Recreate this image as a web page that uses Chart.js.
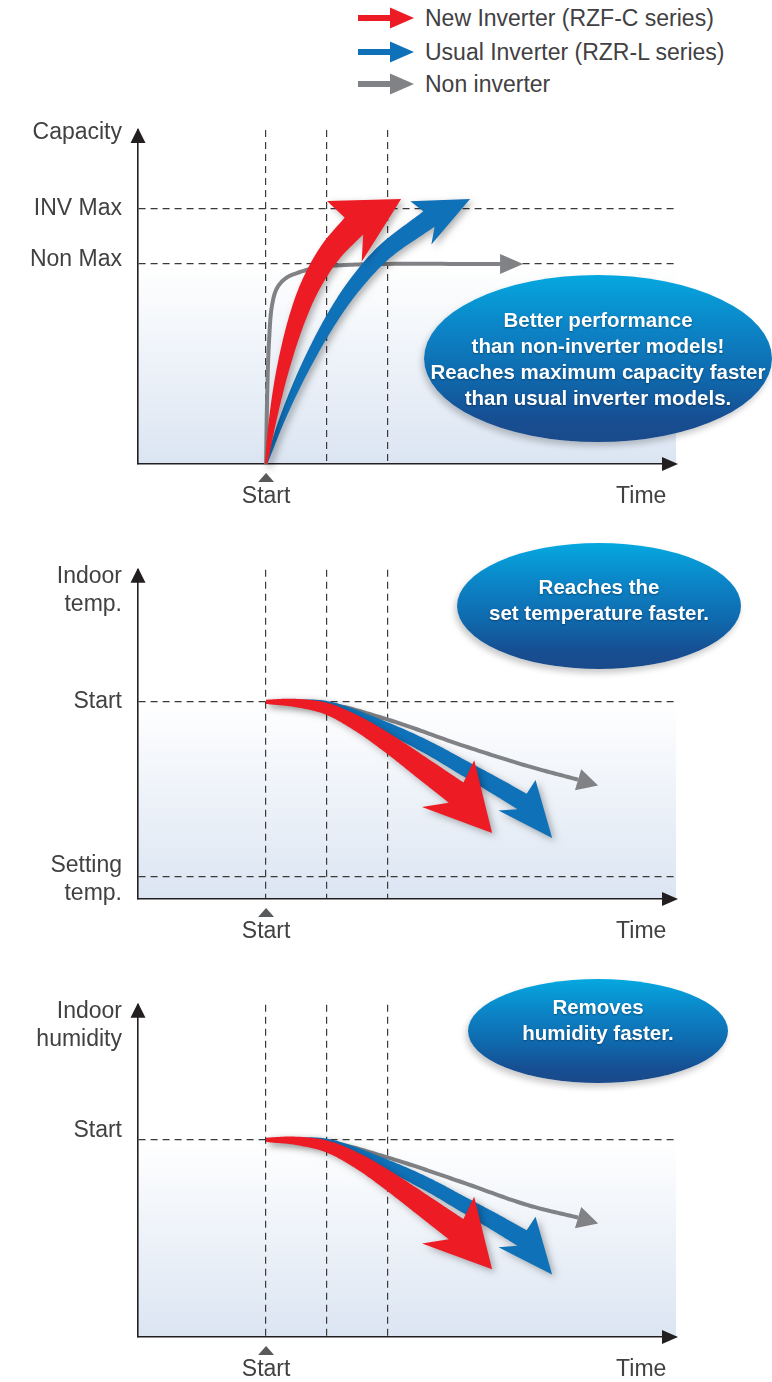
<!DOCTYPE html>
<html>
<head>
<meta charset="utf-8">
<script src="https://cdn.jsdelivr.net/npm/chart.js@4.4.1/dist/chart.umd.min.js"></script>
<style>
  body { margin: 0; background: #fff; }
  #page { position: relative; width: 772px; height: 1382px; overflow: hidden; font-family: "Liberation Sans", Arial, Helvetica, sans-serif; }
  canvas { position: absolute; left: 0; }
  .legend-row { position: absolute; left: 358px; height: 30px; display: flex; align-items: center; color: #414042; font-size: 23px; }
  .legend-row svg { width: 56px; height: 24px; margin-right: 11px; }
  .bubble {
    position: absolute; border-radius: 50%; color: #fff; font-weight: bold; font-size: 20.5px; line-height: 26px;
    text-align: center; display: flex; align-items: center; justify-content: center; box-sizing: border-box;
    background: linear-gradient(to bottom, #05a8e0 0%, #0b86c8 30%, #0f6aae 60%, #164f93 85%, #1a4a8a 100%);
    box-shadow: -2px 4px 6px rgba(0,0,0,0.22);
    text-shadow: 0 1px 2px rgba(0,0,0,0.35);
    white-space: nowrap;
  }
</style>
</head>
<body>
<div id="page">
  <div class="legend-row" style="top:3px">
    <svg viewBox="0 0 56 24"><rect x="0" y="9" width="34" height="6" fill="#ed1c24"/><polygon points="32,1.5 56,12 32,22.5" fill="#ed1c24"/></svg>New Inverter (RZF-C series)
  </div>
  <div class="legend-row" style="top:37px">
    <svg viewBox="0 0 56 24"><rect x="0" y="9" width="34" height="6" fill="#0f71b8"/><polygon points="32,1.5 56,12 32,22.5" fill="#0f71b8"/></svg>Usual Inverter (RZR-L series)
  </div>
  <div class="legend-row" style="top:69px">
    <svg viewBox="0 0 56 24"><rect x="0" y="9" width="34" height="6" fill="#808285"/><polygon points="32,1.5 56,12 32,22.5" fill="#808285"/></svg>Non inverter
  </div>

  <canvas id="capChart" width="772" height="420" style="top:100px"></canvas>
  <canvas id="tempChart" width="772" height="420" style="top:540px"></canvas>
  <canvas id="humChart" width="772" height="407" style="top:975px"></canvas>

  <div class="bubble" style="left:424px; top:275px; width:348px; height:167px;">Better performance<br>than non-inverter models!<br>Reaches maximum capacity faster<br>than usual inverter models.</div>
  <div class="bubble" style="left:457px; top:543px; width:284px; height:126px; padding-bottom:12px;">Reaches the<br>set temperature faster.</div>
  <div class="bubble" style="left:468px; top:979px; width:260px; height:104px; padding-bottom:22px;">Removes<br>humidity faster.</div>
</div>

<script>
// time axis (shared): 0 = start, 1 and 2 are the guide lines
const timeTicks = [0, 1, 2, 6.15];
const timeLabels = ['Start', '', '', 'Time'];
const timeGrid = [true, true, true, false];

// capacity panel (1 = non-inverter max)
const capYTicks = [1.655, 1.275, 1.02, 1.0];
const capYLabels = ['Capacity', 'INV Max', 'Non Max', ''];
const capYGrid = [false, true, false, true];
const capRedX = [0, 0.108, 0.272, 0.502, 0.731, 1.056, 1.439, 2.213];
const capRedY = [0, 0.22, 0.47, 0.72, 0.895, 1.06, 1.19, 1.325];
const capBlueX = [0, 0.259, 0.620, 1.062, 1.452, 1.939, 2.670, 3.344];
const capBlueY = [0, 0.22, 0.47, 0.72, 0.895, 1.06, 1.225, 1.325];
const capGrayX = [0, 0.016, 0.049, 0.098, 0.180, 0.328, 0.557, 0.885, 1.295, 1.869, 3.836, 4.213];
const capGrayY = [0, 0.32, 0.62, 0.795, 0.88, 0.93, 0.96, 0.985, 0.995, 1.0, 1.0, 1.0];

// indoor temperature panel (0 = setting temp, 1 = start temp)
const tempYTicks = [1.636, 1.0, -0.02, 0];
const tempYLabels = [['Indoor', 'temp.'], 'Start', ['Setting', 'temp.'], ''];
const tempYGrid = [false, true, false, true];
const tempRedX = [0, 0.475, 1.0, 1.525, 2.0, 2.672, 3.115, 3.705];
const tempRedY = [1.0, 0.994, 0.960, 0.870, 0.763, 0.593, 0.480, 0.249];
const tempBlueX = [0, 0.475, 1.0, 2.0, 2.672, 3.213, 3.754, 4.197, 4.689];
const tempBlueY = [1.0, 0.997, 0.983, 0.848, 0.734, 0.627, 0.520, 0.429, 0.220];
const tempGrayX = [0, 1.0, 2.0, 3.213, 4.279, 5.115, 5.443];
const tempGrayY = [1.0, 0.989, 0.898, 0.751, 0.633, 0.554, 0.520];

// indoor humidity panel
const humYTicks = [1.653, 1.05, 1.0];
const humYLabels = [['Indoor', 'humidity'], 'Start', ''];
const humYGrid = [false, false, true];
const humRedX = [0, 0.475, 1.0, 1.525, 2.0, 2.672, 3.115, 3.705];
const humRedY = [1.0, 0.995, 0.962, 0.875, 0.768, 0.600, 0.488, 0.258];
const humBlueX = [0, 0.475, 1.0, 2.0, 2.672, 3.213, 3.754, 4.197, 4.689];
const humBlueY = [1.0, 0.997, 0.985, 0.852, 0.740, 0.634, 0.528, 0.437, 0.228];
const humGrayX = [0, 1.0, 2.0, 3.213, 4.279, 5.115, 5.443];
const humGrayY = [1.0, 0.988, 0.898, 0.757, 0.627, 0.554, 0.520];

const FONT = '"Liberation Sans", Arial, Helvetica, sans-serif';
const TEXT = '#414042';
const AXIS = '#231f20';
const DASH = '#3a3a3a';

// centripetal catmull-rom through the pixel points
function smooth(pts, steps) {
    const n = pts.length;
    if (n < 2) return pts.slice();
    const ext = [
        { x: 2 * pts[0].x - pts[1].x, y: 2 * pts[0].y - pts[1].y },
        ...pts,
        { x: 2 * pts[n - 1].x - pts[n - 2].x, y: 2 * pts[n - 1].y - pts[n - 2].y }
    ];
    const knot = (a, b) => Math.max(Math.sqrt(Math.hypot(b.x - a.x, b.y - a.y)), 1e-4);
    const lerp = (a, b, ta, tb, t) => ({
        x: (tb - t) / (tb - ta) * a.x + (t - ta) / (tb - ta) * b.x,
        y: (tb - t) / (tb - ta) * a.y + (t - ta) / (tb - ta) * b.y
    });
    const out = [];
    for (let i = 1; i < ext.length - 2; i++) {
        const p0 = ext[i - 1], p1 = ext[i], p2 = ext[i + 1], p3 = ext[i + 2];
        const t0 = 0, t1 = t0 + knot(p0, p1), t2 = t1 + knot(p1, p2), t3 = t2 + knot(p2, p3);
        for (let s = 0; s < steps; s++) {
            const t = t1 + (t2 - t1) * s / steps;
            const a1 = lerp(p0, p1, t0, t1, t), a2 = lerp(p1, p2, t1, t2, t), a3 = lerp(p2, p3, t2, t3, t);
            const b1 = lerp(a1, a2, t0, t2, t), b2 = lerp(a2, a3, t1, t3, t);
            out.push(lerp(b1, b2, t1, t2, t));
        }
    }
    out.push(pts[n - 1]);
    return out;
}

function drawArrow(ctx, pts, st) {
    const tip = pts[pts.length - 1];
    const shaft = smooth(pts.slice(0, -1), 20);
    const base = shaft[shaft.length - 1];
    const dx = tip.x - base.x, dy = tip.y - base.y, d = Math.hypot(dx, dy) || 1;
    const ux = dx / d, uy = dy / d, nx = -uy, ny = ux;
    const bl = { x: base.x + nx * st.head - ux * st.back, y: base.y + ny * st.head - uy * st.back };
    const br = { x: base.x - nx * st.head - ux * st.back, y: base.y - ny * st.head - uy * st.back };

    ctx.save();
    ctx.fillStyle = st.color;
    ctx.strokeStyle = st.color;
    if (st.shadow) {
        ctx.shadowColor = 'rgba(0,0,0,0.3)';
        ctx.shadowBlur = 7;
        ctx.shadowOffsetX = 3;
        ctx.shadowOffsetY = 3;
    }
    if (st.line) {
        ctx.lineWidth = st.line;
        ctx.lineJoin = 'round';
        ctx.beginPath();
        shaft.forEach((p, i) => i ? ctx.lineTo(p.x, p.y) : ctx.moveTo(p.x, p.y));
        ctx.stroke();
        ctx.beginPath();
        ctx.moveTo(bl.x, bl.y);
        ctx.lineTo(tip.x, tip.y);
        ctx.lineTo(br.x, br.y);
        ctx.closePath();
        ctx.fill();
    } else {
        const len = [0];
        for (let i = 1; i < shaft.length; i++) {
            len.push(len[i - 1] + Math.hypot(shaft[i].x - shaft[i - 1].x, shaft[i].y - shaft[i - 1].y));
        }
        const total = len[len.length - 1] || 1;
        const L = [], R = [];
        shaft.forEach((p, i) => {
            const a = shaft[Math.max(i - 1, 0)], b = shaft[Math.min(i + 1, shaft.length - 1)];
            const tx = b.x - a.x, ty = b.y - a.y, tl = Math.hypot(tx, ty) || 1;
            const px = -ty / tl, py = tx / tl;
            const w = (st.w0 + (st.w1 - st.w0) * Math.pow(len[i] / total, 0.8)) / 2;
            L.push({ x: p.x + px * w, y: p.y + py * w });
            R.push({ x: p.x - px * w, y: p.y - py * w });
        });
        ctx.beginPath();
        ctx.moveTo(L[0].x, L[0].y);
        L.forEach(p => ctx.lineTo(p.x, p.y));
        ctx.lineTo(bl.x, bl.y);
        ctx.lineTo(tip.x, tip.y);
        ctx.lineTo(br.x, br.y);
        for (let i = R.length - 1; i >= 0; i--) ctx.lineTo(R[i].x, R[i].y);
        ctx.closePath();
        ctx.fill();
    }
    ctx.restore();
}

const arrowPlugin = {
    id: 'arrows',
    beforeDraw(chart, args, opts) {
        const { ctx, chartArea: a, scales: { y } } = chart;
        const top = y.getPixelForValue(opts.band);
        const g = ctx.createLinearGradient(0, top, 0, a.bottom);
        g.addColorStop(0, '#ffffff');
        g.addColorStop(1, '#dbe5f2');
        ctx.fillStyle = g;
        ctx.fillRect(a.left, top, a.right - a.left, a.bottom - top);
    },
    afterDatasetsDraw(chart) {
        chart.data.datasets.forEach((ds, i) => {
            const pts = chart.getDatasetMeta(i).data.map(p => ({ x: p.x, y: p.y }));
            drawArrow(chart.ctx, pts, ds.arrowStyle);
        });
    },
    afterDraw(chart) {
        const { ctx, chartArea: a, scales: { x } } = chart;
        ctx.save();
        ctx.fillStyle = AXIS;
        // y axis arrow
        ctx.beginPath();
        ctx.moveTo(a.left, a.top - 2);
        ctx.lineTo(a.left + 7.5, a.top + 13);
        ctx.lineTo(a.left - 7.5, a.top + 13);
        ctx.closePath();
        ctx.fill();
        // x axis arrow
        ctx.beginPath();
        ctx.moveTo(a.right + 2, a.bottom);
        ctx.lineTo(a.right - 14, a.bottom - 7);
        ctx.lineTo(a.right - 14, a.bottom + 7);
        ctx.closePath();
        ctx.fill();
        // start marker
        const sx = x.getPixelForValue(0);
        ctx.fillStyle = '#58595b';
        ctx.beginPath();
        ctx.moveTo(sx, a.bottom + 9);
        ctx.lineTo(sx + 8, a.bottom + 18);
        ctx.lineTo(sx - 8, a.bottom + 18);
        ctx.closePath();
        ctx.fill();
        ctx.restore();
    }
};

function toPoints(xs, ys) {
    return xs.map((x, i) => ({ x: x, y: ys[i] }));
}

function makeChart(id, cfg) {
    return new Chart(document.getElementById(id), {
        type: 'scatter',
        data: {
            datasets: cfg.series.map(s => ({
                label: s.label,
                data: toPoints(s.x, s.y),
                pointRadius: 0,
                showLine: false,
                arrowStyle: s.style
            }))
        },
        options: {
            responsive: false,
            animation: false,
            events: [],
            layout: { padding: { left: 0, right: 96, top: cfg.padTop, bottom: 0 } },
            scales: {
                x: {
                    type: 'linear',
                    min: -2.1,
                    max: 6.72,
                    afterFit: axis => { axis.height = cfg.xHeight; },
                    afterBuildTicks: axis => { axis.ticks = timeTicks.map(v => ({ value: v })); },
                    ticks: {
                        autoSkip: false, maxRotation: 0, minRotation: 0, padding: 19,
                        color: TEXT, font: { family: FONT, size: 23 },
                        callback: (v, i) => timeLabels[i]
                    },
                    grid: { color: c => timeGrid[c.index] ? DASH : 'rgba(0,0,0,0)', lineWidth: 1.2, drawTicks: false },
                    border: { color: AXIS, width: 1.6, dash: [7, 5] }
                },
                y: {
                    type: 'linear',
                    min: cfg.yMin,
                    max: cfg.yMax,
                    afterFit: axis => { axis.width = 138; },
                    afterBuildTicks: axis => { axis.ticks = cfg.yTicks.map(v => ({ value: v })); },
                    ticks: {
                        autoSkip: false, padding: 16,
                        color: TEXT, font: { family: FONT, size: 23 },
                        callback: (v, i) => cfg.yLabels[i]
                    },
                    grid: { color: c => cfg.yGrid[c.index] ? DASH : 'rgba(0,0,0,0)', lineWidth: 1.2, drawTicks: false },
                    border: { color: AXIS, width: 1.6, dash: [7, 5] }
                }
            },
            plugins: {
                legend: { display: false },
                tooltip: { enabled: false },
                arrows: { band: cfg.band }
            }
        },
        plugins: [arrowPlugin]
    });
}

const grayCap = { color: '#808285', line: 4, head: 10, back: 0 };
const blueCap = { color: '#0f71b8', w0: 2, w1: 19, head: 24, back: 9, shadow: true };
const redCap = { color: '#ed1c24', w0: 2, w1: 25, head: 35, back: 11, shadow: true };
const grayFall = { color: '#808285', line: 4, head: 11, back: 0 };
const blueFall = { color: '#0f71b8', w0: 3, w1: 18, head: 24, back: 8, shadow: true };
const redFall = { color: '#ed1c24', w0: 4, w1: 25, head: 35, back: 12, shadow: true };

makeChart('capChart', {
    padTop: 30, xHeight: 56, yMin: 0, yMax: 1.67, band: 1.0,
    yTicks: capYTicks, yLabels: capYLabels, yGrid: capYGrid,
    series: [
        { label: 'Non inverter', x: capGrayX, y: capGrayY, style: grayCap },
        { label: 'Usual Inverter (RZR-L series)', x: capBlueX, y: capBlueY, style: blueCap },
        { label: 'New Inverter (RZF-C series)', x: capRedX, y: capRedY, style: redCap }
    ]
});

makeChart('tempChart', {
    padTop: 25, xHeight: 61, yMin: -0.13, yMax: 1.757, band: 1.0,
    yTicks: tempYTicks, yLabels: tempYLabels, yGrid: tempYGrid,
    series: [
        { label: 'Non inverter', x: tempGrayX, y: tempGrayY, style: grayFall },
        { label: 'Usual Inverter (RZR-L series)', x: tempBlueX, y: tempBlueY, style: blueFall },
        { label: 'New Inverter (RZF-C series)', x: tempRedX, y: tempRedY, style: redFall }
    ]
});

makeChart('humChart', {
    padTop: 25, xHeight: 45, yMin: -0.13, yMax: 1.774, band: 1.0,
    yTicks: humYTicks, yLabels: humYLabels, yGrid: humYGrid,
    series: [
        { label: 'Non inverter', x: humGrayX, y: humGrayY, style: grayFall },
        { label: 'Usual Inverter (RZR-L series)', x: humBlueX, y: humBlueY, style: blueFall },
        { label: 'New Inverter (RZF-C series)', x: humRedX, y: humRedY, style: redFall }
    ]
});
</script>
</body>
</html>
